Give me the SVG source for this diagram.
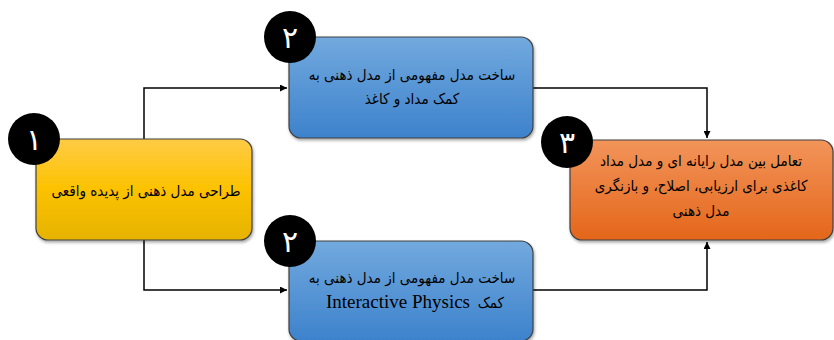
<svg xmlns="http://www.w3.org/2000/svg" width="834" height="340" viewBox="0 0 834 340">
<defs>
<linearGradient id="gy" x1="0" y1="0" x2="0" y2="1"><stop offset="0" stop-color="#FFCB45"/><stop offset="0.5" stop-color="#FCC200"/><stop offset="1" stop-color="#E6B300"/></linearGradient>
<linearGradient id="gb" x1="0" y1="0" x2="0" y2="1"><stop offset="0" stop-color="#72A9DE"/><stop offset="1" stop-color="#3D82CC"/></linearGradient>
<linearGradient id="go" x1="0" y1="0" x2="0" y2="1"><stop offset="0" stop-color="#F2945A"/><stop offset="1" stop-color="#E4661A"/></linearGradient>
<filter id="sh" x="-10%" y="-10%" width="120%" height="130%"><feDropShadow dx="1" dy="2" stdDeviation="1.5" flood-color="#000" flood-opacity="0.35"/></filter>
<marker id="ar" viewBox="0 0 10 10" refX="10" refY="5" markerWidth="7" markerHeight="7" orient="auto" markerUnits="userSpaceOnUse"><path d="M0,0 L10,5 L0,10 z" fill="#000"/></marker>
</defs>
<style>
.box{stroke:#404040;stroke-width:1.2;filter:url(#sh)}
.circ{fill:#000}
.num{fill:#fff;font-family:"DejaVu Sans",sans-serif;font-size:30px;text-anchor:middle}
.t{fill:#000;font-family:"DejaVu Sans Condensed","DejaVu Sans",sans-serif;font-size:15px;text-anchor:middle}
.lat{fill:#000;font-family:"Liberation Serif",serif;font-size:19px}
.c{fill:none;stroke:#000;stroke-width:1.5}
</style>
<rect width="834" height="340" fill="#fff"/>
<g id="connectors">
<path class="c" d="M144,139 V88 H287" marker-end="url(#ar)"/>
<path class="c" d="M533,88 H707 V138" marker-end="url(#ar)"/>
<path class="c" d="M144,240 V290 H287" marker-end="url(#ar)"/>
<path class="c" d="M533,290 H707 V242" marker-end="url(#ar)"/>
</g>
<g id="node1">
<rect class="box" x="36" y="139" width="216" height="101" rx="12" fill="url(#gy)"/>
<circle class="circ" cx="34" cy="139" r="26"/>
<text class="num" x="34" y="150">۱</text>
<text class="t" x="146" y="196" direction="rtl">طراحی مدل ذهنی از پدیده واقعی</text>
</g>
<g id="node2a">
<rect class="box" x="289" y="37" width="244" height="101" rx="12" fill="url(#gb)"/>
<circle class="circ" cx="290" cy="37" r="26"/>
<text class="num" x="290" y="48">۲</text>
<text class="t" x="412" y="80" direction="rtl">ساخت مدل مفهومی از مدل ذهنی به</text>
<text class="t" x="412" y="104" direction="rtl">کمک مداد و کاغذ</text>
</g>
<g id="node2b">
<rect class="box" x="289" y="241" width="244" height="100" rx="12" fill="url(#gb)"/>
<circle class="circ" cx="290" cy="241" r="26"/>
<text class="num" x="290" y="252">۲</text>
<text class="t" x="412" y="283" direction="rtl">ساخت مدل مفهومی از مدل ذهنی به</text>
<text class="t" x="504" y="308" style="text-anchor:start" direction="rtl">کمک</text>
<text class="lat" x="470" y="308" text-anchor="end">Interactive Physics</text>
</g>
<g id="node3">
<rect class="box" x="570" y="140" width="263" height="100" rx="12" fill="url(#go)"/>
<circle class="circ" cx="567" cy="142" r="26"/>
<text class="num" x="567" y="153">۳</text>
<text class="t" x="701" y="166" direction="rtl">تعامل بین مدل رایانه ای و مدل مداد</text>
<text class="t" x="701" y="191" direction="rtl">کاغذی برای ارزیابی، اصلاح، و بازنگری</text>
<text class="t" x="701" y="216" direction="rtl">مدل ذهنی</text>
</g>
</svg>
